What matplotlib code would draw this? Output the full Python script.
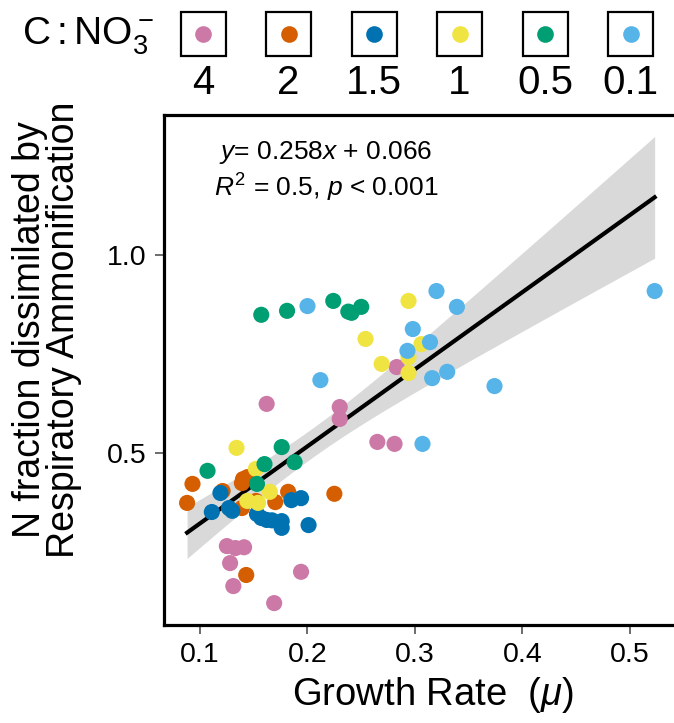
import numpy as np
import matplotlib
matplotlib.use("Agg")
import matplotlib.pyplot as plt
from matplotlib.patches import Rectangle

plt.rcParams["font.family"] = ["Liberation Sans", "DejaVu Sans"]
plt.rcParams["mathtext.fontset"] = "custom"
plt.rcParams["mathtext.rm"] = "Liberation Sans"
plt.rcParams["mathtext.it"] = "Liberation Sans:italic"

# C:NO3- ratio groups
ratios = ["4", "2", "1.5", "1", "0.5", "0.1"]
colors = ["#CC79A7", "#D55E00", "#0072B2", "#F0E442", "#009E73", "#56B4E9"]

# growth rate (x) and N fraction by respiratory ammonification (y), per group
x_4 = [0.162, 0.230, 0.230, 0.283, 0.265, 0.281, 0.125, 0.133, 0.141, 0.128, 0.194, 0.131, 0.169]
y_4 = [0.624, 0.616, 0.586, 0.717, 0.528, 0.523, 0.265, 0.260, 0.262, 0.222, 0.200, 0.164, 0.121]
x_2 = [0.093, 0.088, 0.121, 0.140, 0.144, 0.139, 0.152, 0.170, 0.182, 0.225, 0.139, 0.143]
y_2 = [0.422, 0.374, 0.404, 0.434, 0.439, 0.424, 0.379, 0.376, 0.402, 0.397, 0.361, 0.192]
x_15 = [0.119, 0.111, 0.127, 0.130, 0.153, 0.157, 0.162, 0.167, 0.176, 0.176, 0.185, 0.194, 0.201]
y_15 = [0.399, 0.351, 0.361, 0.354, 0.346, 0.336, 0.331, 0.330, 0.328, 0.311, 0.381, 0.386, 0.318]
x_1 = [0.134, 0.152, 0.165, 0.144, 0.154, 0.294, 0.254, 0.269, 0.306, 0.294, 0.294]
y_1 = [0.513, 0.460, 0.402, 0.379, 0.374, 0.884, 0.788, 0.725, 0.775, 0.742, 0.702]
x_05 = [0.157, 0.181, 0.224, 0.238, 0.241, 0.250, 0.107, 0.176, 0.188, 0.160, 0.153]
y_05 = [0.849, 0.859, 0.884, 0.857, 0.854, 0.869, 0.455, 0.515, 0.477, 0.472, 0.422]
x_01 = [0.200, 0.212, 0.320, 0.339, 0.298, 0.293, 0.314, 0.316, 0.330, 0.307, 0.374, 0.523]
y_01 = [0.871, 0.684, 0.909, 0.869, 0.813, 0.758, 0.780, 0.689, 0.705, 0.523, 0.669, 0.909]

groups = [(x_4, y_4), (x_2, y_2), (x_15, y_15), (x_1, y_1), (x_05, y_05), (x_01, y_01)]

fig = plt.figure(figsize=(6.74, 7.23), dpi=100)
ax = fig.add_axes([164 / 674, 1 - 625 / 723, 1 - 164 / 674, (625 - 115) / 723])

# linear fit with 95% confidence band
all_x = np.concatenate([np.array(g[0]) for g in groups])
all_y = np.concatenate([np.array(g[1]) for g in groups])
n = len(all_x)
slope, icpt = np.polyfit(all_x, all_y, 1)
resid = all_y - (slope * all_x + icpt)
s = np.sqrt(np.sum(resid ** 2) / (n - 2))
xs = np.linspace(all_x.min(), all_x.max(), 100)
se = s * np.sqrt(1 / n + (xs - all_x.mean()) ** 2 / np.sum((all_x - all_x.mean()) ** 2))
t = 1.99
ax.fill_between(xs, slope * xs + icpt - t * se, slope * xs + icpt + t * se,
                color="#d9d9d9", lw=0, zorder=1)
ax.plot(xs, slope * xs + icpt, color="black", lw=3, zorder=2)

for (gx, gy), c in zip(groups, colors):
    ax.scatter(gx, gy, s=135, color=c, edgecolors="none", zorder=3)

ax.text((326 - 164) / 510, 1 - (152 - 115) / 510, r"$y$= 0.258$x$ + 0.066",
        transform=ax.transAxes, ha="center", va="center", fontsize=19)
ax.text((326 - 164) / 510, 1 - (188 - 115) / 510, r"$R^2$ = 0.5, $p$ < 0.001",
        transform=ax.transAxes, ha="center", va="center", fontsize=19)

ax.set_xlim(0.0665, 0.541)
ax.set_ylim(0.0657, 1.3535)
ax.set_xticks([0.1, 0.2, 0.3, 0.4, 0.5])
ax.set_yticks([0.5, 1.0])
ax.tick_params(labelsize=20.5, length=6.5, width=1.1, color="#444444", pad=6)
ax.spines["right"].set_visible(False)
for sp in ["left", "bottom", "top"]:
    ax.spines[sp].set_linewidth(2.3)
ax.set_xlabel(r"Growth Rate  $(\mu)$", fontsize=27.5)
ax.xaxis.set_label_coords((433 - 164) / 510, -0.098)

fig.text(47 / 674, 1 - 330 / 723, "N fraction dissimilated by\nRespiratory Ammonification",
         rotation=90, ha="center", va="center", fontsize=27, linespacing=0.95)

# legend across the top
fig.text(22 / 674, 1 - 36 / 723, r"$\mathrm{C:NO}_3^-$", ha="left", va="center", fontsize=28)
for i, (lab, c) in enumerate(zip(ratios, colors)):
    cx = (203 + i * 85.5) / 674
    cy = 1 - 34 / 723
    w, h = 45 / 674, 43 / 723
    fig.patches.append(Rectangle((cx - w / 2, cy - h / 2), w, h, transform=fig.transFigure,
                                 fill=False, edgecolor="black", lw=1.6))
    fig.add_artist(plt.Line2D([cx], [cy], marker="o", markersize=12, color=c,
                              markeredgewidth=0, transform=fig.transFigure))
    fig.text(cx, 1 - 83 / 723, lab, ha="center", va="center", fontsize=29)

fig.savefig("out.png", dpi=100)
